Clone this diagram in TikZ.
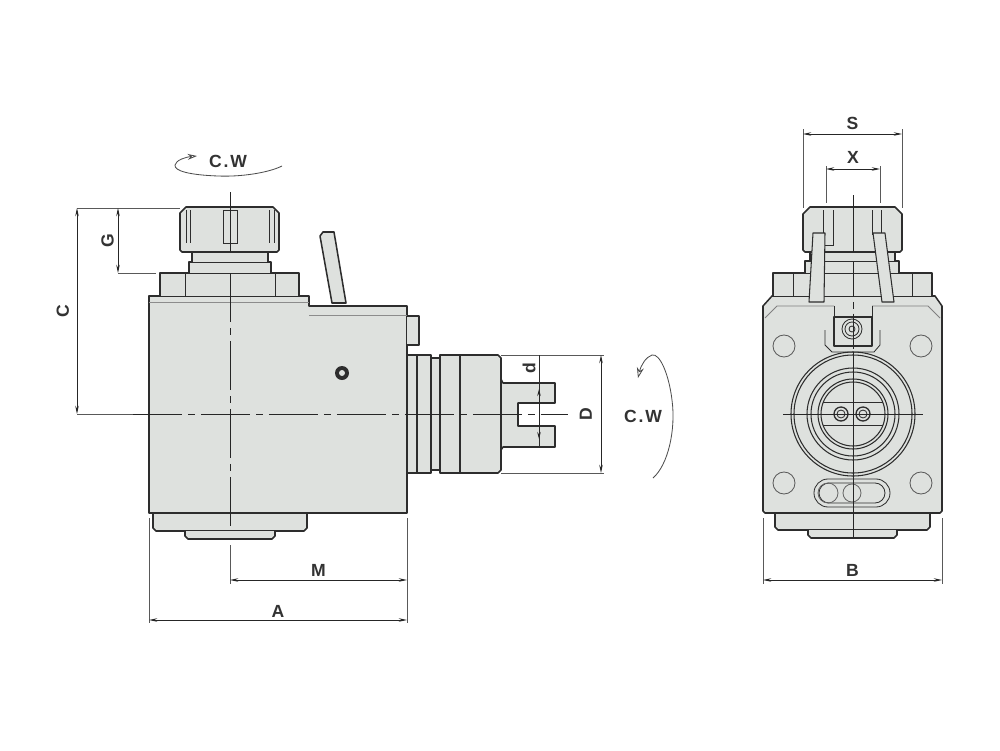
\documentclass[tikz,border=0pt]{standalone}
\usepackage{fontspec}
\setmainfont{Liberation Sans}
\usetikzlibrary{arrows.meta}
\definecolor{bodygrey}{RGB}{222,225,222}
\definecolor{inkdark}{RGB}{45,45,45}
\tikzset{
  part/.style={draw=inkdark,fill=bodygrey,line width=1.3pt,line join=round},
  thinpart/.style={draw=inkdark,line width=0.7pt},
  extline/.style={draw=black!65,line width=0.7pt},
  dimline/.style={draw=black!85,line width=0.8pt,{Stealth[length=7pt,width=3pt]}-{Stealth[length=7pt,width=3pt]}},
  axisline/.style={draw=black!85,line width=0.8pt,dash pattern=on 42pt off 5pt on 6pt off 5pt},
  dimlabel/.style={font=\bfseries\fontsize{15}{15}\selectfont,text=black!80,inner sep=0pt},
  turnarrow/.style={draw=black!70,line width=0.7pt}
}
\begin{document}
\begin{tikzpicture}[x=0.03cm,y=-0.03cm]
    \useasboundingbox (0,0) rectangle (1000,750);
    \fill[white] (0,0) rectangle (1000,750);
    % side view
    \draw[part] (153,513) -- (153,528) -- (156,531) -- (304,531) -- (307,528) -- (307,513);
    \draw[part] (185,531) -- (185,536) -- (188,539) -- (272,539) -- (275,536) -- (275,531);
    \draw[part] (149,296) -- (309,296) -- (309,306) -- (407,306) -- (407,513) -- (149,513) -- cycle;
    \draw[thinpart,draw=black!45] (149,302) -- (309,302) (309,315) -- (407,315);
    \draw[part] (407,316) -- (419,316) -- (419,345) -- (407,345);
    \draw[part] (320,236) -- (323,232) -- (334,232) -- (346,303) -- (332,303) -- cycle;
    \draw[part] (160,296) -- (160,273) -- (299,273) -- (299,296);
    \draw[thinpart] (185,273) -- (185,296) (275,273) -- (275,296);
    \draw[part] (189,273) -- (189,262) -- (271,262) -- (271,273);
    \draw[part] (192,262) -- (192,252) -- (268,252) -- (268,262);
    \draw[part] (180,250) -- (180,213) -- (186,207) -- (273,207) -- (279,213) -- (279,250) -- (277,252) -- (182,252) -- cycle;
    \draw[thinpart] (186,210) -- (186,243) (190,210) -- (190,243) (269,210) -- (269,243) (274,210) -- (274,243);
    \draw[thinpart] (223,210) rectangle (237,243);
    \draw[part] (407,355) rectangle (417,473);
    \draw[part] (417,355) rectangle (431,473);
    \draw[part] (431,358) rectangle (440,470);
    \draw[part] (440,355) rectangle (460,473);
    \draw[part] (460,355) -- (498,355) -- (501,358) -- (501,470) -- (498,473) -- (460,473) -- cycle;
    \draw[part] (501,379) -- (503,383) -- (555,383) -- (555,403) -- (518,403) -- (518,426) -- (555,426) -- (555,447) -- (503,447) -- (501,450) -- cycle;
    \fill[inkdark] (342,373) circle[radius=7];
    \fill[bodygrey] (342,373) circle[radius=3];
    % front view
    \draw[part] (775,513) -- (775,527) -- (778,530) -- (927,530) -- (930,527) -- (930,513);
    \draw[part] (808,530) -- (808,535) -- (811,538) -- (894,538) -- (897,535) -- (897,530);
    \draw[part] (763,306) -- (772,296) -- (935,296) -- (942,306) -- (942,511) -- (940,513) -- (765,513) -- (763,511) -- cycle;
    \draw[thinpart,draw=black!50] (765,318) -- (777,306) -- (834,306) (872,306) -- (928,306) -- (940,318);
    \draw[part] (773,296) -- (773,273) -- (932,273) -- (932,296);
    \draw[thinpart] (793,273) -- (793,296) (912,273) -- (912,296);
    \draw[part] (805,273) -- (805,261) -- (899,261) -- (899,273);
    \draw[part] (810,261) -- (810,252) -- (895,252) -- (895,261);
    \draw[part] (803,250) -- (803,214) -- (810,207) -- (895,207) -- (902,214) -- (902,250) -- (900,252) -- (805,252) -- cycle;
    \draw[thinpart] (823,210) -- (823,245) -- (833,245) -- (833,210) (872,210) -- (872,235) (881,210) -- (881,235);
    \draw[part,line width=0.9pt] (813,233) -- (825,233) -- (824,302) -- (809,302) -- cycle;
    \draw[part,line width=0.9pt] (873,233) -- (885,233) -- (894,302) -- (882,302) -- cycle;
    \draw[thinpart] (825,330) -- (825,345) -- (832,352) -- (874,352) -- (880,345) -- (880,330);
    \draw[part] (834,317) rectangle (872,346);
    \draw[thinpart] (834,317) -- (834,306) (872,317) -- (872,306);
    \foreach \r in {10,7,3} \draw[thinpart] (852,329) circle[radius=\r];
    \foreach \cx/\cy in {784/346,921/346,784/483,921/483} \draw[thinpart,draw=black!65] (\cx,\cy) circle[radius=11];
    \foreach \r in {62,59,46,42,35,32} \draw[thinpart,line width=0.9pt] (853,414) circle[radius=\r];
    \draw[thinpart] (823,402) -- (883,402) (823,425) -- (883,425);
    \foreach \cx in {841,863} {
      \draw[thinpart,line width=1.1pt] (\cx,414) circle[radius=7];
      \draw[thinpart] (\cx,414) circle[radius=4];
    }
    \draw[thinpart,rounded corners=4.2mm] (814,479) rectangle (890,507);
    \draw[thinpart,rounded corners=3mm] (819,483) rectangle (885,503);
    \draw[thinpart,draw=black!60] (828,493) circle[radius=10] (852,493) circle[radius=9];
    % axis lines
    \draw[draw=black!85,line width=0.8pt] (230,192) -- (230,252);
    \draw[axisline] (230,273) -- (230,531);
    \draw[axisline] (133,414) -- (568,414);
    \draw[draw=black!85,line width=0.8pt] (853,195) -- (853,252);
    \draw[axisline,dash pattern=on 30pt off 4pt on 6pt off 4pt] (853,262) -- (853,352);
    \draw[draw=black!85,line width=0.8pt] (853,352) -- (853,538) (783,414) -- (923,414);
    % dimensions of the side view
    \coordinate (ctop) at (77,208);
    \coordinate (cbot) at (77,414);
    \coordinate (gbot) at (118,273);
    \draw[extline] (ctop) -- (180,208) (cbot) -- (133,414) (gbot) -- (156,273);
    \draw[dimline] (ctop) -- node[dimlabel,pos=0.5,xshift=-12,rotate=90] (labc) {C} (cbot);
    \draw[dimline] (118,208) -- node[dimlabel,pos=0.5,xshift=-9,rotate=90] (labg) {G} (gbot);
    \coordinate (mleft) at (230,580);
    \coordinate (mright) at (407,580);
    \coordinate (aleft) at (149,620);
    \coordinate (aright) at (407,620);
    \draw[extline] (230,545) -- (230,584) (149,518) -- (149,623) (407,518) -- (407,623);
    \draw[dimline] (mleft) -- node[dimlabel,above=3pt] (labm) {M} (mright);
    \draw[dimline] (aleft) -- node[dimlabel,above=2pt] (laba) {A} (aright);
    \coordinate (dtop) at (601,355);
    \coordinate (dbot) at (601,473);
    \draw[extline] (501,355) -- (604,355) (501,473) -- (604,473);
    \draw[dimline] (dtop) -- node[dimlabel,pos=0.5,xshift=-13,rotate=90] (labD) {D} (dbot);
    \draw[thinpart] (539,355) -- (539,447);
    \draw[dimline,{Stealth[length=6pt,width=3pt]}-{Stealth[length=6pt,width=3pt]}] (539,389) -- (539,439);
    \node[dimlabel,rotate=90] (labd) at (529,368) {d};
    % dimensions of the front view
    \coordinate (sleft) at (803,134);
    \coordinate (sright) at (902,134);
    \coordinate (xleft) at (826,169);
    \coordinate (xright) at (880,169);
    \draw[extline] (803,129) -- (803,208) (902,129) -- (902,208) (826,166) -- (826,203) (880,166) -- (880,203);
    \draw[dimline] (sleft) -- node[dimlabel,above=3pt] (labs) {S} (sright);
    \draw[dimline] (xleft) -- node[dimlabel,above=4pt] (labx) {X} (xright);
    \coordinate (bleft) at (763,580);
    \coordinate (bright) at (942,580);
    \draw[extline] (763,518) -- (763,584) (942,518) -- (942,584);
    \draw[dimline] (bleft) -- node[dimlabel,above=3pt] (labb) {B} (bright);
    % rotation marks
    \node[dimlabel] (cwtop) at (228,161) {C\kern1.5pt.\kern1.5pt W};
    \node[dimlabel] (cwside) at (643,416) {C\kern1.5pt.\kern1.5pt W};
    \draw[turnarrow,-{Stealth[length=8pt,width=5pt,open]}] (282,166) .. controls (268,173) and (240,177) .. (218,176) .. controls (190,175) and (174,171) .. (175,165) .. controls (176,160) and (186,157) .. (197,156);
    \draw[turnarrow,-{Stealth[length=9pt,width=6pt,open]}] (653,478) .. controls (668,465) and (676,430) .. (672,400) .. controls (669,375) and (660,353) .. (652,355) .. controls (646,357) and (641,365) .. (638,378);
\end{tikzpicture}
\end{document}
